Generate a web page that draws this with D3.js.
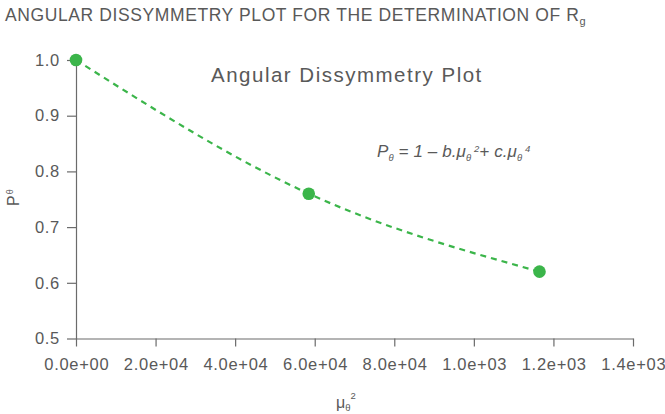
<!DOCTYPE html>
<html>
<head>
<meta charset="utf-8">
<script src="https://cdn.jsdelivr.net/npm/d3@7"></script>
<style>
  html, body { margin: 0; padding: 0; background: #fff; }
  svg { display: block; }
  text { font-family: "Liberation Sans", Arial, sans-serif; fill: #595959; }
</style>
</head>
<body>
<div id="chart"></div>
<script>
// ---- data ----
const muSquared = [0, 58500, 116500];
const pTheta = [1.0, 0.76, 0.62];
const xTickValues = [0, 20000, 40000, 60000, 80000, 100000, 120000, 140000];
const xTickLabels = ["0.0e+00", "2.0e+04", "4.0e+04", "6.0e+04", "8.0e+04", "1.0e+03", "1.2e+03", "1.4e+03"];
const yTickValues = [0.5, 0.6, 0.7, 0.8, 0.9, 1.0];
const yTickLabels = ["0.5", "0.6", "0.7", "0.8", "0.9", "1.0"];

const W = 665, H = 414;
const green = "#3bb54a", axisColor = "#6b6b6b";

const svg = d3.select("#chart").append("svg").attr("width", W).attr("height", H);

const x = d3.scaleLinear().domain([0, 140000]).range([76, 633]);
const y = d3.scaleLinear().domain([0.5, 1.0]).range([338.5, 60]);

// Title
const title = svg.append("text").attr("x", 5).attr("y", 20.5)
  .style("font-size", "17.5px").style("letter-spacing", "0.6px");
title.append("tspan").text("ANGULAR DISSYMMETRY PLOT FOR THE DETERMINATION OF R");
title.append("tspan").attr("dy", 4).style("font-size", "11px").text("g");

// Axes
const xAxis = d3.axisBottom(x).tickValues(xTickValues)
  .tickFormat((d, i) => xTickLabels[i]).tickSize(8).tickPadding(12).tickSizeOuter(0);
const yAxis = d3.axisLeft(y).tickValues(yTickValues)
  .tickFormat((d, i) => yTickLabels[i]).tickSize(9).tickPadding(7).tickSizeOuter(0);

const gx = svg.append("g").attr("transform", `translate(0,${y(0.5)})`).call(xAxis);
const gy = svg.append("g").attr("transform", `translate(${x(0)},0)`).call(yAxis);
[gx, gy].forEach(g => {
  g.select(".domain").attr("stroke", axisColor).attr("stroke-width", 1.2);
  g.selectAll(".tick line").attr("stroke", axisColor).attr("stroke-width", 1.2);
  g.selectAll(".tick text").style("font-size", "16.5px")
    .style("font-family", "'Liberation Sans', Arial, sans-serif")
    .style("letter-spacing", "0.7px").attr("fill", "#595959");
});
gx.selectAll(".tick text").attr("dx", 0.3);

// Fit line (dashed) through data points
const pts = muSquared.map((m, i) => [m, pTheta[i]]);
const line = d3.line().x(d => x(d[0])).y(d => y(d[1])).curve(d3.curveNatural);
svg.append("path").datum(pts).attr("d", line)
  .attr("fill", "none").attr("stroke", green).attr("stroke-width", 2.2)
  .attr("stroke-dasharray", "6,5");

svg.selectAll("circle.pt").data(pts).enter().append("circle")
  .attr("class", "pt").attr("cx", d => x(d[0])).attr("cy", d => y(d[1]))
  .attr("r", 6.3).attr("fill", green);

// Inner title
svg.append("text").attr("x", 211).attr("y", 82).style("font-size", "20.5px")
  .style("letter-spacing", "1.5px")
  .text("Angular Dissymmetry Plot");

// Formula
const f = svg.append("text").attr("x", 377).attr("y", 157)
  .style("font-size", "17px").style("font-style", "italic").style("letter-spacing", "0.1px");
f.append("tspan").text("P");
f.append("tspan").attr("dy", 4).style("font-size", "9.5px").text("θ");
f.append("tspan").attr("dy", -4).text(" = 1 – b.μ");
f.append("tspan").attr("dy", 4).style("font-size", "9.5px").text("θ");
f.append("tspan").attr("dy", -9).style("font-size", "9.5px").text(" 2");
f.append("tspan").attr("dy", 5).text("+ c.μ");
f.append("tspan").attr("dy", 4).style("font-size", "9.5px").text("θ");
f.append("tspan").attr("dy", -9).style("font-size", "9.5px").text(" 4");

// Y axis label
const yl = svg.append("text").attr("transform", "translate(19,206) rotate(-90)")
  .style("font-size", "16px");
yl.append("tspan").text("P");
yl.append("tspan").attr("dx", 1).attr("dy", -6).style("font-size", "9px").text("θ");

// X axis label
const xl = svg.append("text").attr("x", 336).attr("y", 408).style("font-size", "16px");
xl.append("tspan").text("μ");
xl.append("tspan").attr("dy", 3).style("font-size", "9.5px").text("θ");
xl.append("tspan").attr("dy", -12).style("font-size", "9.5px").text("2");
</script>
</body>
</html>
